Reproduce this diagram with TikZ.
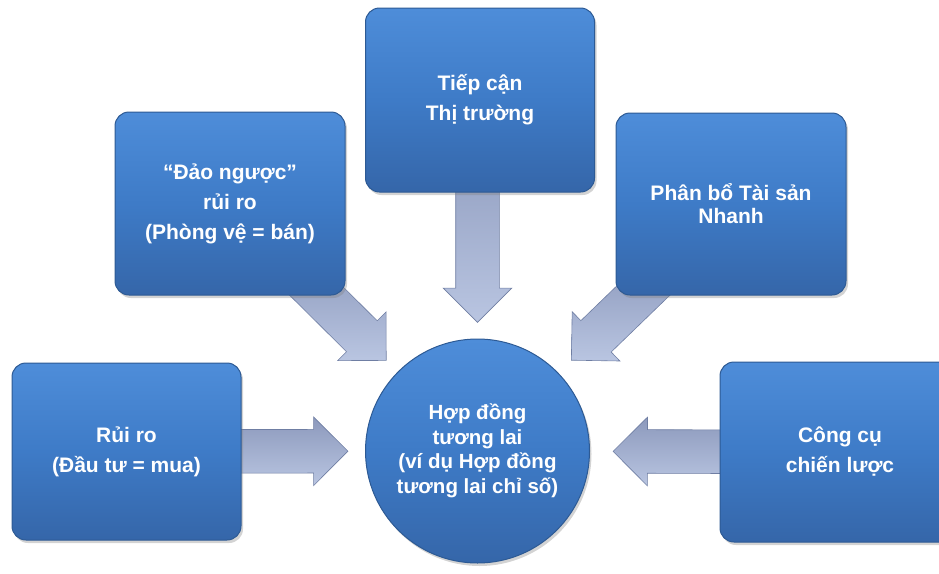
\documentclass[tikz,border=0pt]{standalone}
\usepackage{fontspec}
\setmainfont{Liberation Sans}
\usetikzlibrary{shapes.arrows,shadows,calc}
\pgfdeclarelayer{background}
\pgfsetlayers{background,main}

\definecolor{boxtop}{HTML}{4E8DD9}
\definecolor{boxmid}{HTML}{3E7BC7}
\definecolor{boxbot}{HTML}{3566A9}
\definecolor{boxline}{HTML}{2D5A94}
\definecolor{arrlight}{HTML}{B9C5E1}
\definecolor{arrdark}{HTML}{8C99BC}
\definecolor{arrline}{HTML}{6F7EA3}

% block arrow from #1 to #2
\newcommand{\blockarrow}[2]{%
  \path let \p1=(#1), \p2=(#2),
    \n1={atan2(\y2-\y1,\x2-\x1)}, \n2={veclen(\x2-\x1,\y2-\y1)} in
    node[barrow, rotate=\n1, minimum height={\n2-21}] at ($(#1)!0.5!(#2)$) {};
}

\begin{document}
\begin{tikzpicture}[x=1pt, y=-1pt]
		\tikzstyle{box} = [draw=boxline, line width=1pt, rounded corners=14pt, top color=boxtop, bottom color=boxbot, middle color=boxmid, text=white, align=center, inner sep=0pt, font=\fontsize{21}{30}\selectfont\bfseries, drop shadow={shadow xshift=2pt, shadow yshift=-3pt, opacity=.35}]
		\tikzstyle{hub} = [box, circle, minimum size=224pt, font=\fontsize{20.5}{24.5}\selectfont\bfseries]
		\tikzstyle{barrow} = [single arrow, draw=arrline, line width=.6pt, top color=arrdark, bottom color=arrlight, minimum width=68pt, single arrow head extend=12.5pt, single arrow head indent=0pt, inner xsep=0pt, inner ysep=21.5pt]

		\clip (0,0) rectangle (939,573);

		\node[hub] (fut) at (477.5,451) {Hợp đồng\\tương lai\\(ví dụ Hợp đồng\\tương lai chỉ số)};
		\node[box, minimum width=229pt, minimum height=184pt] (acc) at (480,100) {Tiếp cận\\Thị trường};
		\node[box, minimum width=230pt, minimum height=183pt] (rev) at (230,203.5) {“Đảo ngược”\\rủi ro\\(Phòng vệ = bán)};
		\node[box, minimum width=230pt, minimum height=182pt, font=\fontsize{21}{23}\selectfont\bfseries] (alloc) at (731,204) {Phân bổ Tài sản\\Nhanh};
		\node[box, minimum width=229pt, minimum height=177pt] (risk) at (126.5,451.5) {Rủi ro\\(Đầu tư = mua)};
		\node[box, minimum width=240pt, minimum height=180pt] (tool) at (840,452) {Công cụ\\chiến lược};

		\coordinate (s0) at (477.5,100);
		\coordinate (s1) at (277,252);
		\coordinate (s2) at (677,258);
		\coordinate (t0) at ($(fut.center)!129pt!(s0)$);
		\coordinate (t1) at ($(fut.center)!129pt!(s1)$);
		\coordinate (t2) at ($(fut.center)!131pt!(s2)$);
		\coordinate (t3) at ($(fut.center)!130pt!(risk.center)$);
		\coordinate (t4) at ($(fut.center)!136pt!(tool.center)$);

		\begin{pgfonlayer}{background}
		\blockarrow{s0}{t0}
		\blockarrow{s1}{t1}
		\blockarrow{s2}{t2}
		\blockarrow{risk.center}{t3}
		\blockarrow{tool.center}{t4}
		\end{pgfonlayer}
\end{tikzpicture}
\end{document}
